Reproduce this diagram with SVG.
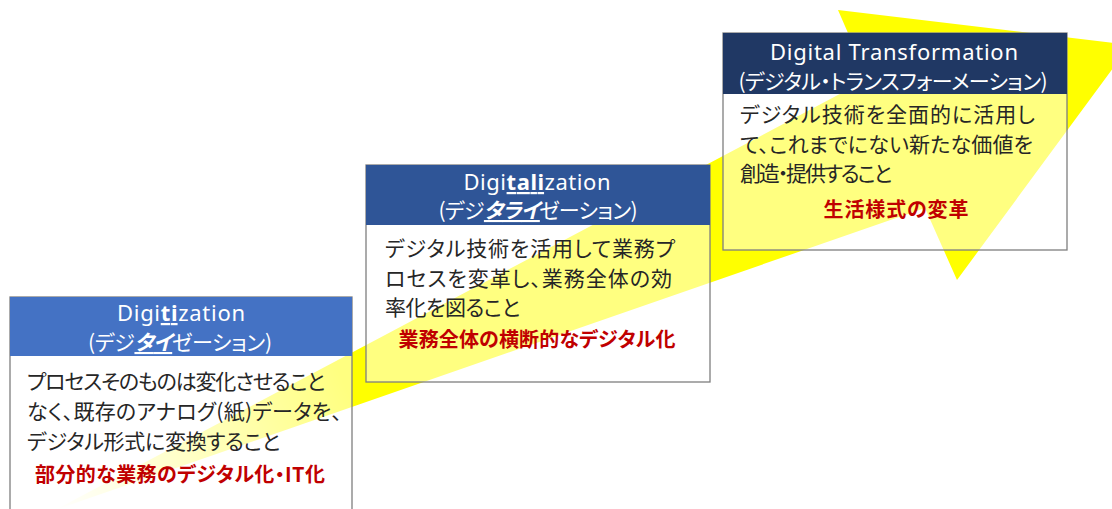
<svg xmlns="http://www.w3.org/2000/svg" width="1112" height="509" viewBox="0 0 1112 509">
<defs>
<linearGradient id="arrowGrad" gradientUnits="userSpaceOnUse" x1="55" y1="510" x2="1130" y2="45">
<stop offset="0" stop-color="#FFFF00" stop-opacity="0"/>
<stop offset="0.27" stop-color="#FFFF00" stop-opacity="1"/>
<stop offset="1" stop-color="#FFFF00" stop-opacity="1"/>
</linearGradient>
<style>
.hdr-en { font-family: "Noto Sans", "Noto Sans CJK JP", sans-serif; font-size: 22px; fill: #ffffff; }
.hdr-jp { font-family: "Noto Sans CJK JP", sans-serif; font-size: 21px; fill: #ffffff; font-feature-settings: "palt"; }
.body { font-family: "Noto Sans CJK JP", sans-serif; font-size: 21px; fill: #262626; font-feature-settings: "palt"; }
.key { font-family: "Noto Sans CJK JP", sans-serif; font-size: 20px; font-weight: bold; fill: #C00000; font-feature-settings: "palt"; }
.hl { font-weight: bold; text-decoration: underline; }
.hlj { font-weight: bold; font-style: italic; text-decoration: underline; }
.frame { fill: #ffffff; fill-opacity: 0.5; stroke: #7F7F7F; stroke-width: 1.3; }
</style>
</defs>
<rect width="1112" height="509" fill="#ffffff"/>
<g id="connectors">
<polygon class="progress-arrow" fill="url(#arrowGrad)" points="55,510 868,79 838,10 1130,45 957,280 925,208"/>
</g>
<g id="node-digitization">
<rect class="frame" x="10" y="297" width="342" height="230"/>
<rect x="10" y="297" width="342" height="59" fill="#4472C4"/>
<text class="hdr-en" x="181" y="321" text-anchor="middle" textLength="128">Digi<tspan class="hl">ti</tspan>zation</text>
<text class="hdr-jp" x="180" y="350" text-anchor="middle" textLength="184">(デジ<tspan class="hlj">タイ</tspan>ゼーション)</text>
<text class="body" x="27" y="389" textLength="298">プロセスそのものは変化させること</text>
<text class="body" x="27" y="419" textLength="315">なく、既存のアナログ(紙)データを、</text>
<text class="body" x="27" y="449" textLength="253">デジタル形式に変換すること</text>
<text class="key" x="180" y="482" text-anchor="middle" textLength="290">部分的な業務のデジタル化・IT化</text>
</g>
<g id="node-digitalization">
<rect class="frame" x="366" y="165" width="344" height="217"/>
<rect x="366" y="165" width="344" height="60" fill="#2F5597"/>
<text class="hdr-en" x="537" y="190" text-anchor="middle" textLength="147">Digi<tspan class="hl">tali</tspan>zation</text>
<text class="hdr-jp" x="538" y="218" text-anchor="middle" textLength="199">(デジ<tspan class="hlj">タライ</tspan>ゼーション)</text>
<text class="body" x="385" y="256" textLength="290">デジタル技術を活用して業務プ</text>
<text class="body" x="385" y="285.5" textLength="287">ロセスを変革し、業務全体の効</text>
<text class="body" x="385" y="315" textLength="135">率化を図ること</text>
<text class="key" x="537" y="347" text-anchor="middle" textLength="277">業務全体の横断的なデジタル化</text>
</g>
<g id="node-dx">
<rect class="frame" x="723" y="33" width="344" height="217"/>
<rect x="723" y="33" width="344" height="61" fill="#203864"/>
<text class="hdr-en" x="894" y="60" text-anchor="middle" textLength="248">Digital Transformation</text>
<text class="hdr-jp" x="893" y="89" text-anchor="middle" textLength="309">(デジタル・トランスフォーメーション)</text>
<text class="body" x="740" y="122" textLength="295">デジタル技術を全面的に活用し</text>
<text class="body" x="740" y="151.5" textLength="293">て、これまでにない新たな価値を</text>
<text class="body" x="740" y="181" textLength="152">創造・提供すること</text>
<text class="key" x="896" y="217" text-anchor="middle" textLength="145">生活様式の変革</text>
</g>
</svg>
